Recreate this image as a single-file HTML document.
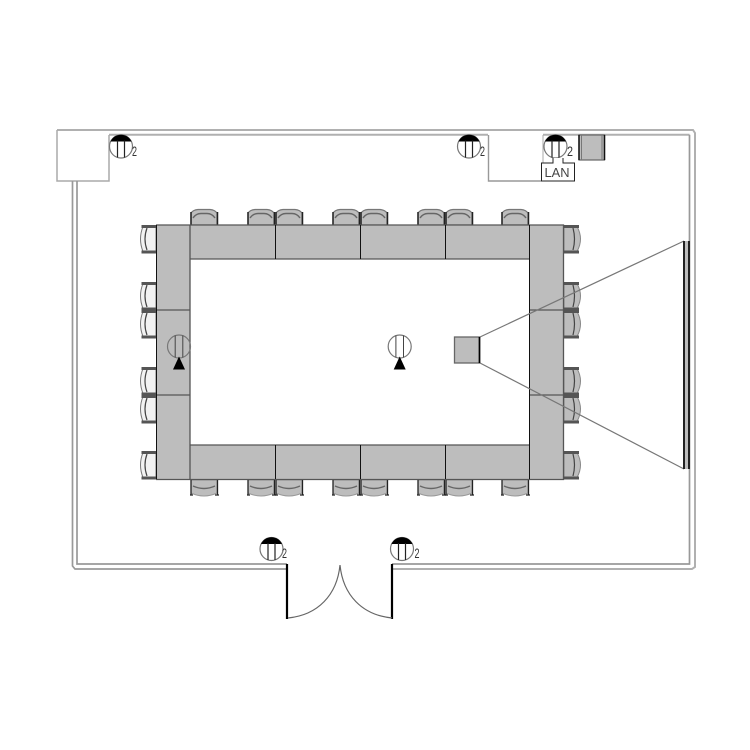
<!DOCTYPE html>
<html>
<head>
<meta charset="utf-8">
<style>
html,body{margin:0;padding:0;background:#fff}
svg{display:block}
text{font-family:"Liberation Sans",sans-serif}
</style>
</head>
<body>
<svg width="750" height="750" viewBox="0 0 750 750" xmlns="http://www.w3.org/2000/svg">
<defs>
  <g id="chairTop">
    <path d="M1 16 V4 Q3 1 8 0.500 H20 Q25 1 27 4 V16 Z" fill="#bdbdbd" stroke="#777" stroke-width="1.200"/>
    <path d="M3 9 Q6 4.500 11 4.500 H17 Q22 4.500 25 9" fill="none" stroke="#666" stroke-width="1.400"/>
    <path d="M1 3 V16 M27.500 3 V16" stroke="#222" stroke-width="1.500" fill="none"/>
  </g>
  <g id="chairBottom">
    <path d="M1 0 V13 Q14 19 27 13 V0 Z" fill="#bdbdbd" stroke="#999" stroke-width="1"/>
    <path d="M3 6 Q14 11 25 6" fill="none" stroke="#666" stroke-width="1.400"/>
    <path d="M1 0 V15 M27.500 0 V15 M0 15 H3 M25 15 H29" stroke="#222" stroke-width="1.300" fill="none"/>
  </g>
  <g id="chairLeft">
    <path d="M16 1.500 H3 Q-2 14 3 26.500 H16 Z" fill="#f2f2f2" stroke="#777" stroke-width="1"/>
    <path d="M7 3 Q3 14 7 25" fill="none" stroke="#444" stroke-width="1.200"/>
    <path d="M1.500 1.500 H16 M1.500 27 H16" stroke="#555" stroke-width="3" fill="none"/>
  </g>
  <g id="chairRight">
    <path d="M0 1.500 H13 Q20 14 13 26.500 H0 Z" fill="#bdbdbd" stroke="#888" stroke-width="1"/>
    <path d="M9 3 Q12 14 9 25" fill="none" stroke="#444" stroke-width="1.200"/>
    <path d="M0 1.500 H15 M0 27 H15" stroke="#555" stroke-width="3" fill="none"/>
  </g>
  <g id="lamp">
    <circle cx="0" cy="0" r="11.500" fill="#fff" stroke="#777" stroke-width="1.200"/>
    <path d="M-10.500 -5 A11.500 11.500 0 0 1 10.500 -5 Z" fill="#000"/>
    <path d="M-3.500 -6 V11 M3.500 -6 V11" stroke="#222" stroke-width="1.200"/>
  </g>
  <g id="lampTri">
    <circle cx="0" cy="0" r="11.500" fill="none" stroke="#777" stroke-width="1.200"/>
    <path d="M-3.800 -11 V11 M3.800 -11 V11" stroke="#444" stroke-width="1"/>
    <path d="M0 10 L6 23 H-6 Z" fill="#000"/>
  </g>
</defs>

<!-- walls -->
<g fill="none">
  <path d="M57 130 H693 L695 133 V567 L692 569 H392" stroke="#b0b0b0" stroke-width="2"/>
  <path d="M109 134.700 H488 M543 134.700 H689.500" stroke="#b0b0b0" stroke-width="2"/>
  <path d="M689.500 134.700 V564 H392" stroke="#999" stroke-width="1.700"/>
  <path d="M57 130 V181 H109 V135" stroke="#aaa" stroke-width="1.500"/>
  <path d="M488.500 135 V181 H541" stroke="#999" stroke-width="1.400"/>
  <path d="M543 163 V135" stroke="#aaa" stroke-width="1"/>
  <path d="M287 564 H77 V181" stroke="#999" stroke-width="1.700"/>
  <path d="M287 569 H75 L72.500 566 V181" stroke="#999" stroke-width="1.700"/>
</g>

<!-- door -->
<path d="M287 564 V619 M392 564 V619" stroke="#000" stroke-width="2.200" fill="none"/>
<path d="M288 618 C318 615 337 595 340 565 C343 595 362 615 392 618" fill="none" stroke="#666" stroke-width="1.200"/>

<!-- chairs top -->
<use href="#chairTop" x="190" y="209"/>
<use href="#chairTop" x="247" y="209"/>
<use href="#chairTop" x="275" y="209"/>
<use href="#chairTop" x="332" y="209"/>
<use href="#chairTop" x="360" y="209"/>
<use href="#chairTop" x="417" y="209"/>
<use href="#chairTop" x="445" y="209"/>
<use href="#chairTop" x="501" y="209"/>
<!-- chairs bottom -->
<use href="#chairBottom" x="190" y="480"/>
<use href="#chairBottom" x="247" y="480"/>
<use href="#chairBottom" x="275" y="480"/>
<use href="#chairBottom" x="332" y="480"/>
<use href="#chairBottom" x="360" y="480"/>
<use href="#chairBottom" x="417" y="480"/>
<use href="#chairBottom" x="445" y="480"/>
<use href="#chairBottom" x="501" y="480"/>
<!-- chairs left -->
<use href="#chairLeft" x="140" y="225"/>
<use href="#chairLeft" x="140" y="282"/>
<use href="#chairLeft" x="140" y="310"/>
<use href="#chairLeft" x="140" y="367"/>
<use href="#chairLeft" x="140" y="395"/>
<use href="#chairLeft" x="140" y="451"/>
<!-- chairs right -->
<use href="#chairRight" x="564" y="225"/>
<use href="#chairRight" x="564" y="282"/>
<use href="#chairRight" x="564" y="310"/>
<use href="#chairRight" x="564" y="367"/>
<use href="#chairRight" x="564" y="395"/>
<use href="#chairRight" x="564" y="451"/>

<!-- tables -->
<g fill="#bdbdbd">
  <rect x="190" y="225" width="339" height="34"/>
  <rect x="190" y="445" width="339" height="34"/>
  <rect x="156" y="225" width="34" height="254"/>
  <rect x="529" y="225" width="34" height="254"/>
</g>
<g fill="none" stroke="#555" stroke-width="1.300">
  <path d="M156 225 H563.500 V479.500 H156"/>
  <path d="M190 259 H529 M190 445 H529"/>
  <path d="M190 225 V479"/>
  <path d="M156 310 H190 M156 395 H190 M529 310 H563 M529 395 H563"/>
</g>
<path d="M156.500 225 V479 M275.500 225 V259 M360.500 225 V259 M445.500 225 V259 M275.500 445 V479 M360.500 445 V479 M445.500 445 V479 M529.500 225 V479" stroke="#111" stroke-width="1" fill="none"/>

<!-- lamps -->
<use href="#lamp" x="121" y="146.500"/>
<use href="#lamp" x="469" y="146.500"/>
<use href="#lamp" x="555.500" y="146.500"/>
<use href="#lamp" x="271.500" y="549"/>
<use href="#lamp" x="402" y="549"/>
<g font-size="14" fill="#333">
  <text x="132" y="156" textLength="5" lengthAdjust="spacingAndGlyphs">2</text>
  <text x="480" y="156" textLength="5" lengthAdjust="spacingAndGlyphs">2</text>
  <text x="567" y="156" textLength="6" lengthAdjust="spacingAndGlyphs">2</text>
  <text x="282" y="558" textLength="5" lengthAdjust="spacingAndGlyphs">2</text>
  <text x="414.500" y="558" textLength="5" lengthAdjust="spacingAndGlyphs">2</text>
</g>
<use href="#lampTri" x="179" y="346.500"/>
<use href="#lampTri" x="399.700" y="346.500"/>

<!-- LAN -->
<path d="M553 158 V163 H541.500 V181 H574.500 V163 H563 V158" fill="#fff" stroke="#222" stroke-width="1"/>
<text x="544.500" y="177" font-size="12.500" fill="#444" textLength="25" lengthAdjust="spacingAndGlyphs">LAN</text>

<!-- cabinet -->
<rect x="579" y="135" width="25.500" height="25" fill="#bdbdbd" stroke="#666" stroke-width="1.200"/>
<path d="M579 135 V160 M604.500 135 V160" stroke="#111" stroke-width="1.500"/>
<path d="M581.500 135 V160 M602 135 V160" stroke="#777" stroke-width="1"/>

<!-- projector and screen -->
<path d="M480 337 L684 241 M480 363 L684 469" stroke="#777" stroke-width="1.200" fill="none"/>
<rect x="454.500" y="337" width="25" height="26" fill="#bdbdbd" stroke="#666" stroke-width="1.300"/>
<path d="M479.500 337 V363" stroke="#000" stroke-width="1.700"/>
<rect x="684" y="241" width="5" height="228" fill="#bdbdbd"/>
<path d="M684 241 V469 M689 241 V469" stroke="#222" stroke-width="2" fill="none"/>
</svg>
</body>
</html>
